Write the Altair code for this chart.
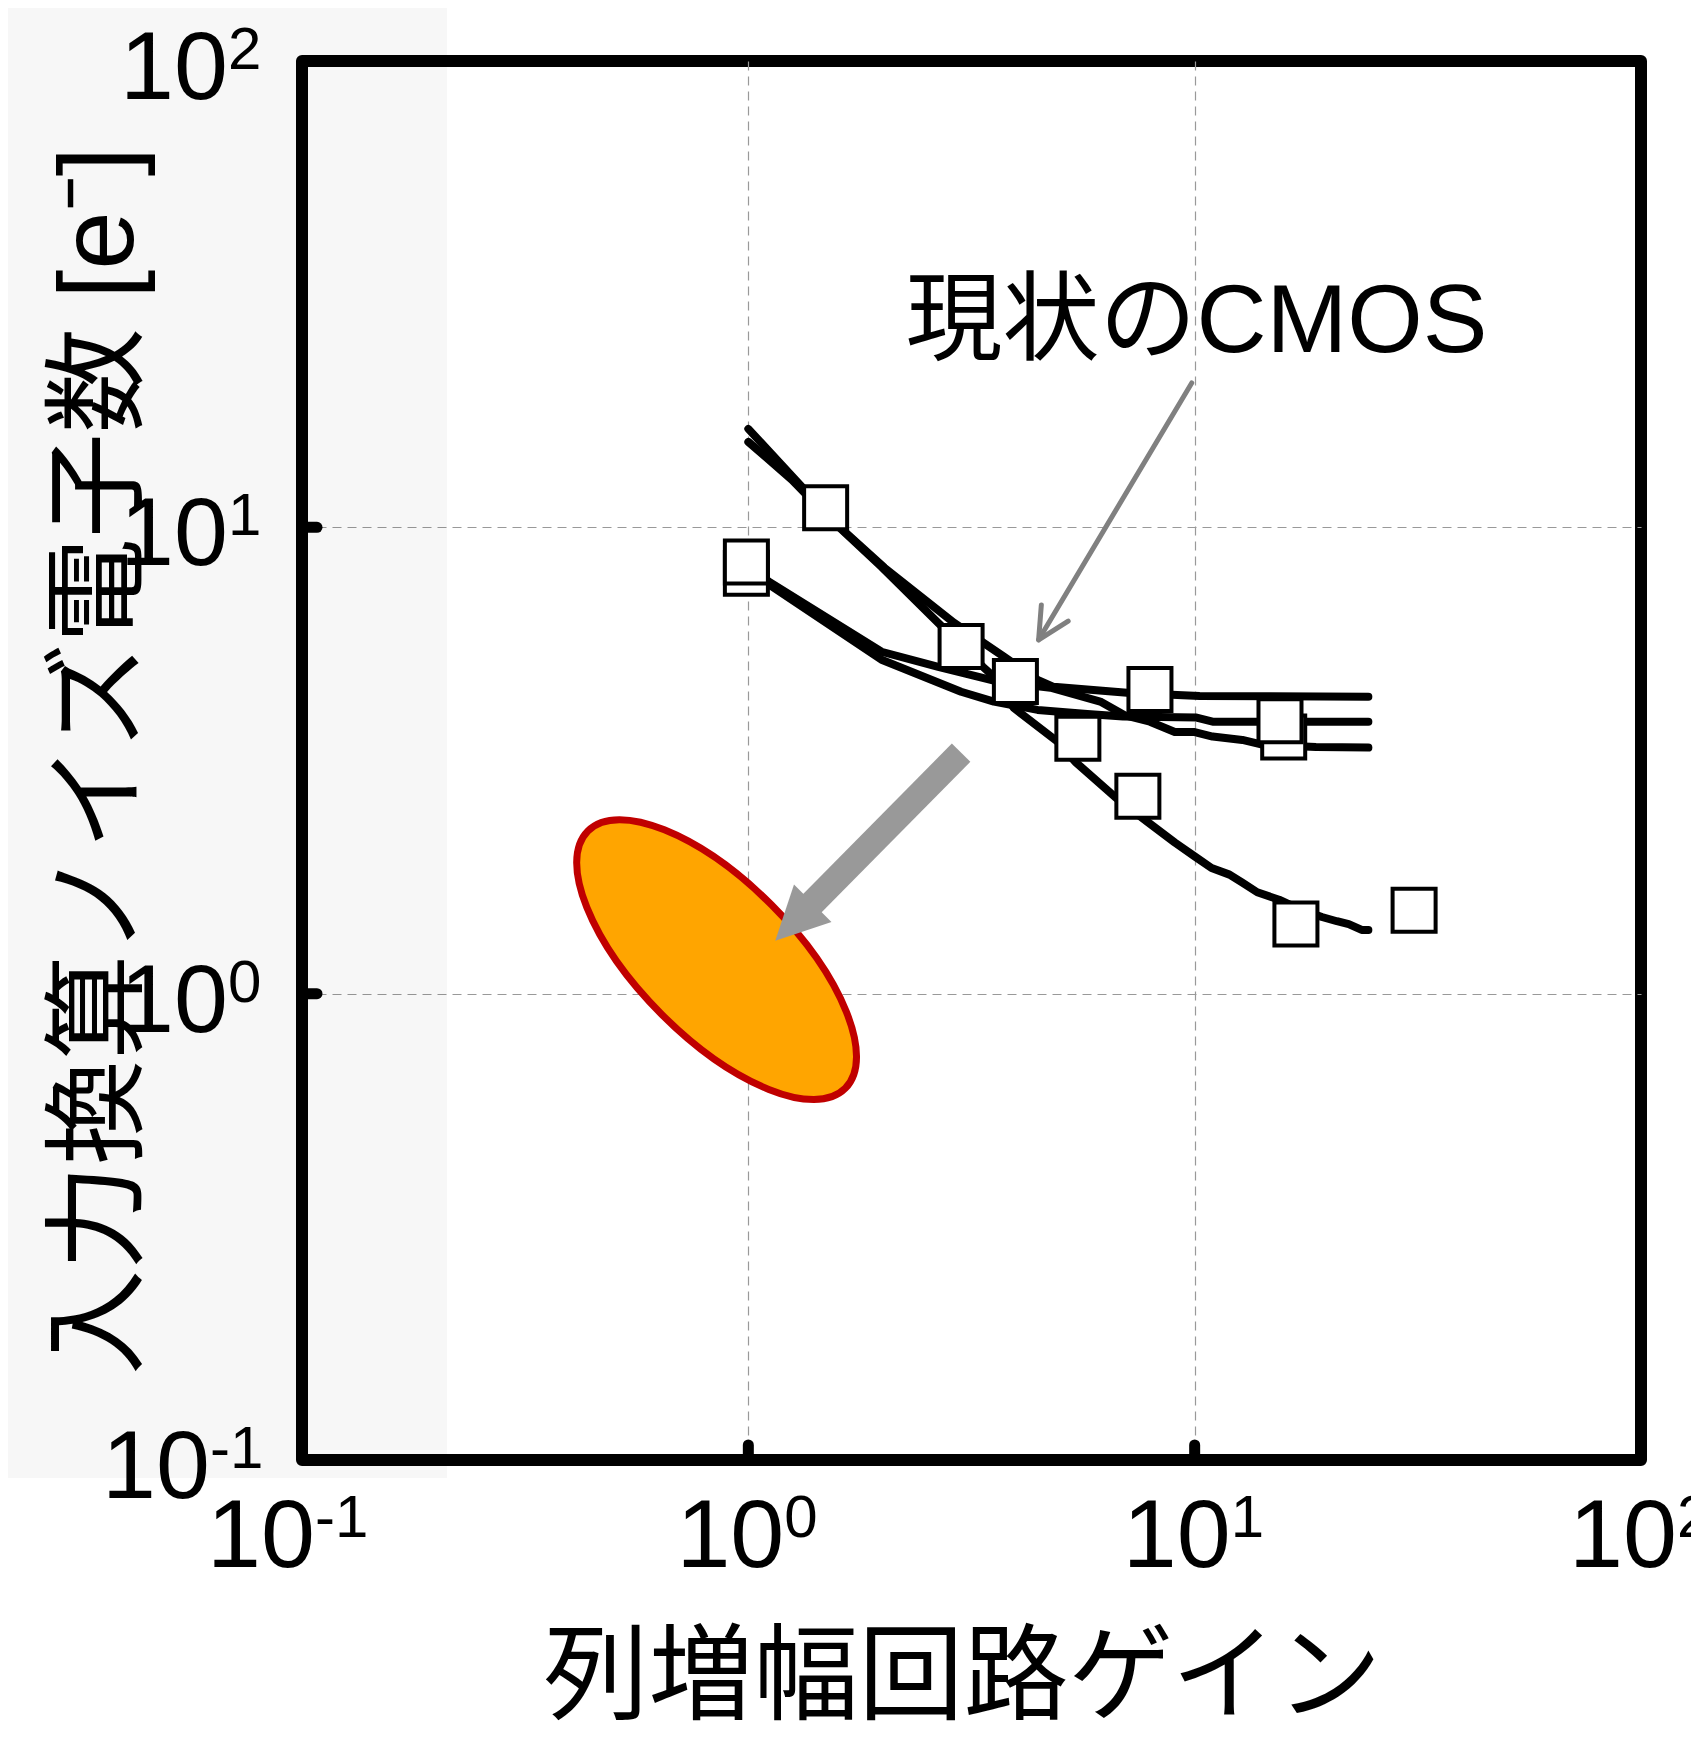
import altair as alt
import pandas as pd

# ---------------- data ----------------
# four measured curves: column amplifier gain vs input-referred noise [e-]
CURVE_1_GAIN = [1.000, 1.319, 1.644, 2.019, 2.891, 3.736, 4.448, 4.828, 5.927, 7.056, 10.26, 24.5]
CURVE_1_NOISE = [16.26, 12.21, 9.78, 8.19, 6.24, 5.28, 4.71, 4.55, 4.48, 4.42, 4.35, 4.33]

CURVE_2_GAIN = [1.000, 1.253, 1.492, 1.988, 2.677, 3.355, 3.549, 3.932, 4.929, 5.404, 6.634, 7.819,
                9.025, 10.0, 10.91, 11.97, 12.79, 13.81, 15.46, 17.13, 19.28, 20.83, 22.14, 23.67, 24.5]
CURVE_2_NOISE = [15.25, 12.64, 10.64, 8.23, 6.21, 5.02, 4.78, 4.10, 3.47, 3.14, 2.64, 2.34,
                 2.11, 1.97, 1.86, 1.80, 1.73, 1.65, 1.59, 1.52, 1.46, 1.43, 1.41, 1.37, 1.37]

CURVE_3_GAIN = [1.000, 1.114, 1.988, 2.664, 3.623, 4.754, 6.144, 6.985, 7.94, 9.025, 10.0, 10.97,
                12.79, 14.17, 18.70, 24.5]
CURVE_3_NOISE = [8.19, 7.64, 5.41, 5.02, 4.67, 4.53, 4.23, 3.95, 3.83, 3.64, 3.64, 3.56,
                 3.50, 3.42, 3.38, 3.37]

CURVE_4_GAIN = [1.000, 1.114, 1.988, 2.997, 3.549, 4.448, 5.746, 6.912, 10.10, 10.97, 24.5]
CURVE_4_NOISE = [8.03, 7.53, 5.20, 4.44, 4.23, 4.06, 3.98, 3.93, 3.91, 3.83, 3.83]

# square markers (drawing order: hidden ones first)
SQUARE_GAIN = [0.990, 0.990, 1.490, 2.997, 3.966, 7.94, 5.474, 15.83, 15.53, 7.46, 16.86, 31.02]
SQUARE_NOISE = [7.97, 8.43, 11.02, 5.55, 4.67, 4.49, 3.53, 3.55, 3.85, 2.65, 1.41, 1.51]

# axes
TICK_VALUES = [0.1, 1, 10, 100]
TICK_BASES = ["10", "10", "10", "10"]
TICK_EXPONENTS = ["-1", "0", "1", "2"]
GRID_VALUES = [1, 10]
X_TITLE = "列増幅回路ゲイン"
Y_TITLE = "入力換算ノイズ電子数 [e⁻]"

# annotations
TARGET_GAIN = [0.849]          # orange target ellipse centre
TARGET_NOISE = [1.183]
BIG_ARROW_GAIN = [2.997, 1.286]   # shaft start / end
BIG_ARROW_NOISE = [3.287, 1.448]
BIG_ARROW_TIP_GAIN = [1.149]
BIG_ARROW_TIP_NOISE = [1.299]
THIN_ARROW_GAIN = [9.85, 4.471]   # start / tip
THIN_ARROW_NOISE = [20.40, 5.739]
NOTE_TEXT = ["現状のCMOS"]
NOTE_GAIN = [2.249]
NOTE_NOISE = [23.78]

# ---------------- styling ----------------
W, H = 1339, 1399
LATIN = "Liberation Sans"
MIXED = "Liberation Sans, Noto Sans CJK JP"
CJK = "Noto Sans CJK JP"

xscale = alt.Scale(type="log", domain=[0.1, 100], nice=False)
yscale = alt.Scale(type="log", domain=[0.1, 100], nice=False)

AXIS_X = alt.Axis(values=GRID_VALUES, grid=True, gridDash=[9, 6], gridColor="#999999", gridWidth=1.2,
                  domain=False, ticks=False, labels=False, title=X_TITLE, titleFont=CJK,
                  titleFontSize=105, titleFontWeight="normal", titleColor="black",
                  titleX=660, titleY=250, titleAlign="center", titleBaseline="alphabetic", titleAngle=0)
AXIS_Y = alt.Axis(values=GRID_VALUES, grid=True, gridDash=[9, 6], gridColor="#999999", gridWidth=1.2,
                  domain=False, ticks=False, labels=False, title=Y_TITLE, titleFont=MIXED,
                  titleFontSize=105, titleFontWeight="normal", titleColor="black",
                  titleX=-202, titleY=H / 2, titleAlign="center", titleBaseline="middle", titleAngle=270)


def X(f):
    return alt.X(f"{f}:Q", scale=xscale, axis=AXIS_X)


def Y(f):
    return alt.Y(f"{f}:Q", scale=yscale, axis=AXIS_Y)


# ---------------- tables ----------------
rows = []
for cid, (gx, ny) in enumerate([(CURVE_1_GAIN, CURVE_1_NOISE), (CURVE_2_GAIN, CURVE_2_NOISE),
                                (CURVE_3_GAIN, CURVE_3_NOISE), (CURVE_4_GAIN, CURVE_4_NOISE)]):
    for i, (g, n) in enumerate(zip(gx, ny)):
        rows.append({"curve": f"c{cid}", "i": i, "gain": g, "noise": n})
df_lines = pd.DataFrame(rows)
df_sq = pd.DataFrame({"gain": SQUARE_GAIN, "noise": SQUARE_NOISE, "i": list(range(len(SQUARE_GAIN)))})
df_ticks = pd.DataFrame({"v": TICK_VALUES, "base": TICK_BASES, "exp": TICK_EXPONENTS})
df_grid = pd.DataFrame({"v": GRID_VALUES})
df_target = pd.DataFrame({"gain": TARGET_GAIN, "noise": TARGET_NOISE})
df_big = pd.DataFrame({"gain": [BIG_ARROW_GAIN[0]], "noise": [BIG_ARROW_NOISE[0]],
                       "gain2": [BIG_ARROW_GAIN[1]], "noise2": [BIG_ARROW_NOISE[1]]})
df_big_tip = pd.DataFrame({"gain": BIG_ARROW_TIP_GAIN, "noise": BIG_ARROW_TIP_NOISE})
df_thin = pd.DataFrame({"gain": [THIN_ARROW_GAIN[0]], "noise": [THIN_ARROW_NOISE[0]],
                        "gain2": [THIN_ARROW_GAIN[1]], "noise2": [THIN_ARROW_NOISE[1]]})
df_thin_tip = pd.DataFrame({"gain": [THIN_ARROW_GAIN[1]], "noise": [THIN_ARROW_NOISE[1]]})
df_note = pd.DataFrame({"gain": NOTE_GAIN, "noise": NOTE_NOISE, "label": NOTE_TEXT})

# ---------------- layers ----------------
panel = alt.Chart(pd.DataFrame({"a": [0]})).mark_rect(fill="black", fillOpacity=0.031).encode(
    x=alt.value(-294), x2=alt.value(145), y=alt.value(-53), y2=alt.value(1417))

ELLIPSE_PATH = "M -1 0 A 1 0.426 0 1 1 1 0 A 1 0.426 0 1 1 -1 0 Z"
target = alt.Chart(df_target).mark_point(
    shape=ELLIPSE_PATH, size=132496, angle=45, filled=True, fill="#FFA500",
    stroke="#C00000", strokeWidth=7, opacity=1).encode(x=X("gain"), y=Y("noise"))

big_shaft = alt.Chart(df_big).mark_rule(color="#999999", strokeWidth=26, strokeCap="butt").encode(
    x=X("gain"), y=Y("noise"), x2="gain2:Q", y2="noise2:Q")
big_head = alt.Chart(df_big_tip).mark_point(
    shape="M 0 0 L 1 2 L -1 2 Z", size=2809, angle=225, filled=True, color="#999999",
    opacity=1).encode(x=X("gain"), y=Y("noise"))

thin_shaft = alt.Chart(df_thin).mark_rule(color="#808080", strokeWidth=5, strokeCap="round").encode(
    x=X("gain"), y=Y("noise"), x2="gain2:Q", y2="noise2:Q")
thin_head = alt.Chart(df_thin_tip).mark_point(
    shape="M -1 2 L 0 0 L 1 2", size=980, angle=211, filled=False, color="#808080",
    strokeWidth=5, strokeCap="round", strokeJoin="round", opacity=1).encode(x=X("gain"), y=Y("noise"))

lines = alt.Chart(df_lines).mark_line(color="black", strokeWidth=8, strokeCap="round",
                                      strokeJoin="round").encode(
    x=X("gain"), y=Y("noise"), detail="curve:N", order="i:Q")

squares = alt.Chart(df_sq).mark_square(size=1850, filled=True, fill="white", stroke="black",
                                       strokeWidth=4, opacity=1).encode(x=X("gain"), y=Y("noise"))

note = alt.Chart(df_note).mark_text(font=MIXED, fontSize=97, align="left", baseline="alphabetic",
                                    color="black").encode(x=X("gain"), y=Y("noise"), text="label:N")

xticks = alt.Chart(df_grid).mark_rule(color="black", strokeWidth=11, strokeCap="round").encode(
    x=X("v"), y=alt.value(H - 15), y2=alt.value(H))
yticks = alt.Chart(df_grid).mark_rule(color="black", strokeWidth=11, strokeCap="round").encode(
    y=Y("v"), x=alt.value(0), x2=alt.value(15))

neg = alt.datum.exp == "-1"
pos = alt.datum.exp != "-1"


def xlab(filt, dx):
    base = alt.Chart(df_ticks).transform_filter(filt).mark_text(
        font=LATIN, fontSize=97, align="right", baseline="alphabetic", dx=dx, dy=107,
        color="black").encode(x=X("v"), y=alt.value(H), text="base:N")
    sup = alt.Chart(df_ticks).transform_filter(filt).mark_text(
        font=LATIN, fontSize=60, align="left", baseline="alphabetic", dx=dx, dy=77,
        color="black").encode(x=X("v"), y=alt.value(H), text="exp:N")
    return [base, sup]


def ylab(filt, dx):
    base = alt.Chart(df_ticks).transform_filter(filt).mark_text(
        font=LATIN, fontSize=97, align="right", baseline="alphabetic", dx=dx, dy=38,
        color="black").encode(y=Y("v"), x=alt.value(0), text="base:N")
    sup = alt.Chart(df_ticks).transform_filter(filt).mark_text(
        font=LATIN, fontSize=60, align="left", baseline="alphabetic", dx=dx, dy=8,
        color="black").encode(y=Y("v"), x=alt.value(0), text="exp:N")
    return [base, sup]


label_layers = xlab(pos, 36) + xlab(neg, 13) + ylab(pos, -74) + ylab(neg, -92)

chart = alt.layer(
    panel, target, big_shaft, big_head, thin_shaft, thin_head, lines, squares, note,
    xticks, yticks, *label_layers
).properties(
    width=W, height=H,
    autosize=alt.AutoSizeParams(type="none"),
    padding={"left": 294, "top": 53, "right": 50, "bottom": 267},
).configure(
    background="white",
    view=alt.ViewConfig(stroke="black", strokeWidth=12, strokeJoin="round"),
)

chart.save("out.html", embed_options={"renderer": "svg", "actions": False})
